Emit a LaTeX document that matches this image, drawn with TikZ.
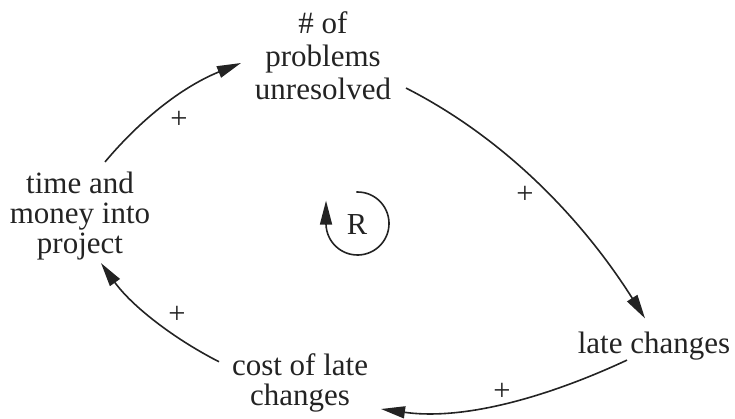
\documentclass[tikz,border=0pt]{standalone}
\usepackage{fontspec}
\setmainfont{Liberation Serif}
\usetikzlibrary{arrows.meta}
\definecolor{ink}{RGB}{35,35,35}
\tikzset{
  var/.style={inner sep=0pt, outer sep=0pt, align=center, text=ink},
  sign/.style={inner sep=0pt, text=ink, font=\fontsize{30.5}{33}\selectfont},
  link/.style={draw=ink, line width=1.6pt, -{Triangle[length=24pt,width=12pt]}}
}
\begin{document}
\begin{tikzpicture}[x=1pt,y=1pt]
\useasboundingbox (0,0) rectangle (735,418);
\node[var, font=\fontsize{31}{33}\selectfont] (prob) at (323,362) {\# of\\problems\\unresolved};
\node[var, font=\fontsize{31}{30}\selectfont] (time) at (80,202) {time and\\money into\\project};
\node[var, font=\fontsize{31}{30}\selectfont] (late) at (654,72) {late changes};
\node[var, font=\fontsize{31}{30}\selectfont] (cost) at (300,35) {cost of late\\changes};
\node[sign] (p1) at (179,298) {+};
\node[sign] (p2) at (525,223) {+};
\node[sign] (p3) at (502,26) {+};
\node[sign] (p4) at (177,103) {+};
\node[sign] (R) at (357,193) {R};
\coordinate (loopc) at (357.5,194.5);

\draw[link] ([shift={(25pt,10pt)}]time.north) .. controls +(50:60pt) and +(202:60pt) .. ([shift={(-14pt,-7pt)}]prob.west);
\draw[link] ([shift={(15pt,12pt)}]prob.south east) .. controls +(-27:114pt) and +(122.3:114pt) .. ([shift={(-9pt,13.5pt)}]late.north);
\draw[link] ([shift={(-27pt,0pt)}]late.south) .. controls +(205:85pt) and +(-8:85pt) .. ([shift={(13pt,-26pt)}]cost.east);
\draw[link] ([shift={(-13pt,-8pt)}]cost.north west) .. controls +(153:52pt) and +(-54.4:52pt) .. ([shift={(21pt,-3pt)}]time.south);

\draw[link] (loopc) ++(92:31.5pt) arc[start angle=92, end angle=-178, radius=31.5pt] -- ++(0,24pt);
\end{tikzpicture}
\end{document}
